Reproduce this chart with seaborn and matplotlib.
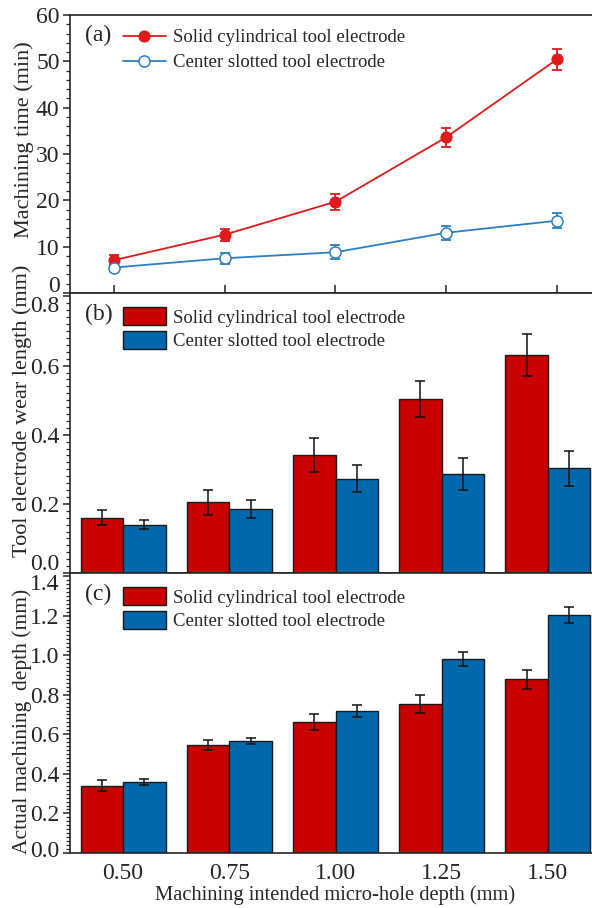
import numpy as np
import pandas as pd
import matplotlib
matplotlib.use("Agg")
import matplotlib.pyplot as plt
import matplotlib.transforms as mtrans
from matplotlib.ticker import MultipleLocator
import seaborn as sns

# ---------------- data ----------------
depths = ["0.50", "0.75", "1.00", "1.25", "1.50"]
depth_vals = [0.50, 0.75, 1.00, 1.25, 1.50]
series = ["Solid cylindrical tool electrode", "Center slotted tool electrode"]

time_solid = [7.1, 12.6, 19.7, 33.6, 50.4]
time_solid_err = [1.0, 1.3, 1.7, 2.1, 2.3]
time_slot = [5.5, 7.5, 8.8, 13.0, 15.6]
time_slot_err = [0.8, 1.2, 1.5, 1.5, 1.6]

wear_solid = [0.160, 0.205, 0.342, 0.503, 0.630]
wear_solid_err = [0.022, 0.036, 0.049, 0.052, 0.060]
wear_slot = [0.140, 0.185, 0.273, 0.287, 0.303]
wear_slot_err = [0.012, 0.026, 0.038, 0.046, 0.051]

depth_solid = [0.340, 0.545, 0.663, 0.752, 0.877]
depth_solid_err = [0.027, 0.027, 0.040, 0.044, 0.050]
depth_slot = [0.360, 0.566, 0.717, 0.981, 1.202]
depth_slot_err = [0.016, 0.017, 0.029, 0.036, 0.042]

# ---------------- style ----------------
sns.set_theme(style="ticks")
plt.rcParams["font.family"] = ["Liberation Serif", "DejaVu Serif"]
plt.rcParams["font.size"] = 13
plt.rcParams["axes.linewidth"] = 1.2
plt.rcParams["xtick.major.width"] = 1.1
plt.rcParams["ytick.major.width"] = 1.1
plt.rcParams["ytick.minor.width"] = 0.9
plt.rcParams["ytick.major.size"] = 5
plt.rcParams["ytick.minor.size"] = 3
plt.rcParams["ytick.major.pad"] = 2.5
plt.rcParams["ytick.labelsize"] = 17
plt.rcParams["xtick.labelsize"] = 17

LINE_RED = "#de1a1a"
LINE_BLUE = "#2a7fc6"
BAR_RED = "#c80000"
BAR_BLUE = "#0068ad"

W, H = 592, 908
fig = plt.figure(figsize=(W / 100, H / 100), dpi=100)

def pos(left, right, top, bottom):
    return [left / W, 1 - bottom / H, (right - left) / W, (bottom - top) / H]

ax_a = fig.add_axes(pos(70, 601, 15, 293))
ax_b = fig.add_axes(pos(70, 601, 293, 573))
ax_c = fig.add_axes(pos(70, 601, 573, 853))

# ---------------- panel (a) ----------------
df_a = pd.DataFrame({
    "depth": depth_vals * 2,
    "time": time_solid + time_slot,
    "tool": [series[0]] * 5 + [series[1]] * 5,
})
sns.lineplot(data=df_a[df_a.tool == series[0]], x="depth", y="time", ax=ax_a,
             color=LINE_RED, lw=1.3, marker="o", markersize=8,
             markerfacecolor=LINE_RED, markeredgecolor=LINE_RED,
             label=series[0], errorbar=None)
sns.lineplot(data=df_a[df_a.tool == series[1]], x="depth", y="time", ax=ax_a,
             color=LINE_BLUE, lw=1.3, marker="o", markersize=8,
             markerfacecolor="white", markeredgecolor=LINE_BLUE, markeredgewidth=1.1,
             label=series[1], errorbar=None)
ax_a.errorbar(depth_vals, time_solid, yerr=time_solid_err, fmt="none",
              ecolor=LINE_RED, elinewidth=1.3, capsize=3.5, capthick=1.3, zorder=1)
ax_a.errorbar(depth_vals, time_slot, yerr=time_slot_err, fmt="none",
              ecolor=LINE_BLUE, elinewidth=1.3, capsize=3.5, capthick=1.3, zorder=1)
ax_a.set_xlim(0.4, 1.6)
ax_a.set_ylim(0, 60)
ax_a.set_xticks(depth_vals)
ax_a.set_xticklabels([])
ax_a.tick_params(axis="x", direction="in", length=6, width=1.1)
ax_a.set_yticks([0, 10, 20, 30, 40, 50, 60])
ax_a.yaxis.set_minor_locator(MultipleLocator(2))
ax_a.tick_params(axis="y", which="both", direction="out")
ax_a.set_xlabel("")
ax_a.set_ylabel("Machining time (min)", fontsize=16)
ax_a.yaxis.set_label_coords(-0.068, 0.55)
ax_a.text(0.029, 0.925, "(a)", transform=ax_a.transAxes, fontsize=17, va="center")
ax_a.legend(loc="upper left", bbox_to_anchor=(0.092, 0.963), frameon=False,
            fontsize=13.5, handlelength=2.3, handletextpad=0.4,
            labelspacing=0.42, borderpad=0.2, borderaxespad=0)

# ---------------- bar panels ----------------
def bar_panel(ax, solid, slot, solid_err, slot_err, ylim, yticks, label,
              ylabel, ylabel_size, ylabel_y, leg_top):
    df = pd.DataFrame({
        "depth": depths * 2,
        "value": solid + slot,
        "tool": [series[0]] * 5 + [series[1]] * 5,
    })
    sns.barplot(data=df, x="depth", y="value", hue="tool", order=depths,
                hue_order=series, palette=[BAR_RED, BAR_BLUE], ax=ax,
                errorbar=None, width=0.8, edgecolor="#1a1a1a", linewidth=1.0,
                saturation=1)
    for cont, errs in zip(ax.containers, [solid_err, slot_err]):
        xs = [p.get_x() + p.get_width() / 2 for p in cont.patches]
        ys = [p.get_height() for p in cont.patches]
        ax.errorbar(xs, ys, yerr=errs, fmt="none", ecolor="#111111",
                    elinewidth=1.1, capsize=3.5, capthick=1.1, zorder=5)
    ax.set_xlim(-0.5, 4.5)
    ax.set_ylim(*ylim)
    ax.set_yticks(yticks)
    ax.set_yticklabels([f"{t:.1f}" for t in yticks])
    ax.yaxis.set_minor_locator(MultipleLocator(0.02))
    ax.tick_params(axis="y", which="both", direction="out")
    ax.tick_params(axis="x", length=0)
    ax.set_ylabel(ylabel, fontsize=ylabel_size)
    ax.yaxis.set_label_coords(-0.072, ylabel_y)
    ax.set_xlabel("")
    ax.text(0.029, 0.925, label, transform=ax.transAxes, fontsize=17, va="center")
    ax.legend(loc="upper left", bbox_to_anchor=(0.092, leg_top), frameon=False,
              fontsize=13.5, handlelength=2.3, handleheight=1.1,
              handletextpad=0.4, labelspacing=0.22, borderpad=0.2, borderaxespad=0)

bar_panel(ax_b, wear_solid, wear_slot, wear_solid_err, wear_slot_err,
          (0, 0.81), [0.0, 0.2, 0.4, 0.6, 0.8], "(b)",
          "Tool electrode wear length (mm)", 16, 0.58, 0.962)
ax_b.set_xticklabels([])

bar_panel(ax_c, depth_solid, depth_slot, depth_solid_err, depth_slot_err,
          (0, 1.415), [0.0, 0.2, 0.4, 0.6, 0.8, 1.0, 1.2, 1.4], "(c)",
          "Actual machining  depth (mm)", 15.5, 0.47, 0.962)
ax_c.tick_params(axis="x", pad=7)
ax_c.set_xlabel("Machining intended micro-hole depth (mm)", fontsize=14.8, labelpad=1)

# shift edge tick labels inward, as in the original stacked layout
def shift_label(ax, index, dy_px):
    ticks = ax.yaxis.get_major_ticks()
    lab = ticks[index].label1
    lab.set_transform(lab.get_transform() +
                      mtrans.ScaledTranslation(0, dy_px / 100, fig.dpi_scale_trans))

shift_label(ax_a, 0, 9)
shift_label(ax_b, 0, 11)
shift_label(ax_b, -1, -8)
shift_label(ax_c, 0, 4)
shift_label(ax_c, -1, -6)

fig.savefig("out.png", dpi=100)
